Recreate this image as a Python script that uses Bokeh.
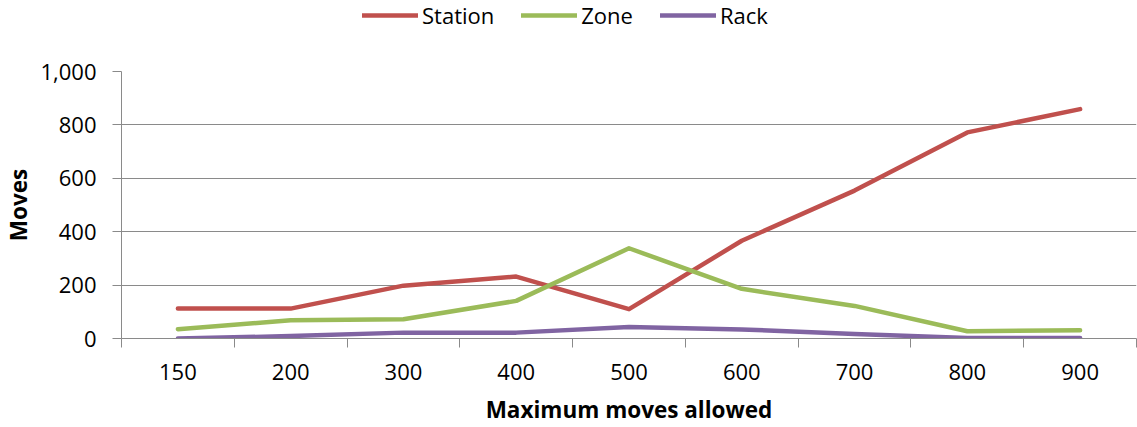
from bokeh.plotting import figure
from bokeh.layouts import column
from bokeh.models import Range1d, FixedTicker, NumeralTickFormatter, Legend, LegendItem
from bokeh.embed import file_html
from bokeh.resources import INLINE

# Moves made at each "maximum moves allowed" setting
max_moves = ["150", "200", "300", "400", "500", "600", "700", "800", "900"]
station = [112, 112, 198, 232, 110, 366, 554, 772, 859]
zone = [35, 68, 72, 141, 338, 186, 122, 27, 31]
rack = [0, 9, 22, 22, 43, 34, 17, 2, 2]
y_ticks = [0, 200, 400, 600, 800, 1000]

series_names = ["Station", "Zone", "Rack"]
series_values = [station, zone, rack]
series_colors = ["#C0504D", "#9BBB59", "#8064A2"]

FONT = "Open Sans"
GREY = "#8a8a8a"
TEXT = "#000000"
W = 1137
LEGEND_H = 40

# each category occupies one unit slot; points sit in the slot centres
slots = [i + 0.5 for i in range(len(max_moves))]
edges = list(range(len(max_moves) + 1))

p = figure(width=W, height=427 - LEGEND_H, output_backend="svg",
           toolbar_location=None,
           x_range=Range1d(0, len(max_moves)), y_range=Range1d(0, 1000),
           min_border_left=120, min_border_right=1, min_border_top=71 - LEGEND_H,
           min_border_bottom=89)
p.outline_line_color = None
p.background_fill_color = "white"
p.border_fill_color = "white"

for vals, color in zip(series_values, series_colors):
    p.line(slots, vals, line_color=color, line_width=4.5,
           line_join="round", line_cap="round")

# x axis: labels at slot centres, tick marks on slot boundaries
xa = p.xaxis[0]
xa.ticker = FixedTicker(ticks=slots, minor_ticks=edges)
xa.major_label_overrides = {s: m for s, m in zip(slots, max_moves)}
xa.major_tick_line_color = None
xa.major_tick_out = 0
xa.major_tick_in = 0
xa.minor_tick_line_color = GREY
xa.minor_tick_in = 0
xa.minor_tick_out = 9
xa.axis_line_color = GREY
xa.major_label_standoff = 16
xa.major_label_text_font = FONT
xa.major_label_text_font_size = "22px"
xa.major_label_text_color = TEXT
xa.axis_label = "Maximum moves allowed"
xa.axis_label_text_font = FONT
xa.axis_label_text_font_size = "22.5px"
xa.axis_label_text_font_style = "bold"
xa.axis_label_text_color = TEXT
xa.axis_label_standoff = 11

ya = p.yaxis[0]
ya.ticker = FixedTicker(ticks=y_ticks)
ya.formatter = NumeralTickFormatter(format="0,0")
ya.major_tick_line_color = GREY
ya.major_tick_in = 0
ya.major_tick_out = 9
ya.minor_tick_line_color = None
ya.axis_line_color = GREY
ya.major_label_standoff = 16
ya.major_label_text_font = FONT
ya.major_label_text_font_size = "22px"
ya.major_label_text_color = TEXT
ya.axis_label = "Moves"
ya.axis_label_text_font = FONT
ya.axis_label_text_font_size = "22.5px"
ya.axis_label_text_font_style = "bold"
ya.axis_label_text_color = TEXT
ya.axis_label_standoff = 3

p.xgrid.visible = False
p.ygrid.grid_line_color = GREY
p.ygrid.grid_line_width = 1

# legend strip across the top of the chart; its own copies of the series
# lie outside its y range, so only the legend swatches show
lg = figure(width=W, height=LEGEND_H, output_backend="svg", toolbar_location=None,
            x_range=Range1d(0, len(max_moves)), y_range=Range1d(5000, 6000),
            x_axis_location=None, y_axis_location=None,
            min_border=0, min_border_left=0, min_border_right=0,
            min_border_top=0, min_border_bottom=0)
lg.outline_line_color = None
lg.xgrid.visible = False
lg.ygrid.visible = False
lg.background_fill_color = "white"
lg.border_fill_color = "white"

items = []
for name, vals, color in zip(series_names, series_values, series_colors):
    r = lg.line(slots, vals, line_color=color, line_width=4.5, line_cap="round")
    items.append(LegendItem(label=name, renderers=[r]))

legend = Legend(items=items, orientation="horizontal", location=(241, 10),
                glyph_width=56, glyph_height=20, label_standoff=4, spacing=27,
                padding=0, margin=0, border_line_color=None,
                background_fill_alpha=0,
                label_text_font=FONT, label_text_font_size="22px",
                label_text_color=TEXT)
lg.add_layout(legend, "center")

layout = column(lg, p, spacing=0)
open("out.html", "w").write(file_html(layout, INLINE))
